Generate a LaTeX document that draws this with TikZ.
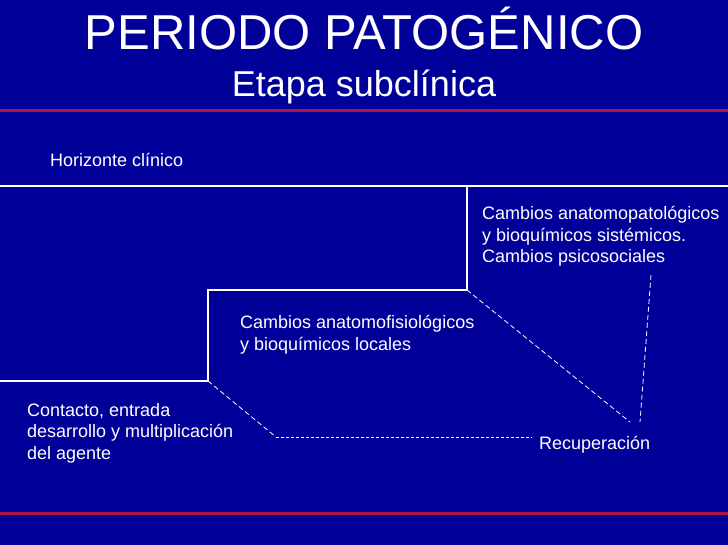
\documentclass[tikz,border=0pt]{standalone}
\usepackage{fontspec}
\setmainfont{Liberation Sans}
\usetikzlibrary{positioning}
\definecolor{fondo}{RGB}{0,0,153}
\definecolor{franja}{RGB}{170,20,70}

\begin{document}
\begin{tikzpicture}[x=1pt, y=-1pt,
  txt/.style={text=white, inner sep=0pt, align=left, anchor=base west,
    font=\fontsize{18}{21.5}\selectfont},
  escalon/.style={draw=white, line width=1.3pt},
  guion/.style={draw=white, line width=0.8pt, dash pattern=on 5pt off 3pt},
  punteado/.style={draw=white, line width=0.8pt, dash pattern=on 3pt off 2pt}]
\fill[fondo] (0,0) rectangle (728,545);
\useasboundingbox (0,0) rectangle (728,545);
% bandas
\draw[franja, line width=3pt] (0,111) -- (728,111);
\draw[franja, line width=3pt] (0,513) -- (728,513);
% titulos
\node[text=white, inner sep=0pt, anchor=base, font=\fontsize{49}{49}\selectfont] (titulo) at (364,50) {PERIODO PATOGÉNICO};
\node[text=white, inner sep=0pt, anchor=base, font=\fontsize{36}{36}\selectfont] (etapa) at (364,97) {Etapa subclínica};
% escalones
\coordinate (h0) at (0,186);
\coordinate (h1) at (728,186);
\coordinate (s1) at (467,186);
\coordinate (s2) at (467,290);
\coordinate (s3) at (208,290);
\coordinate (s4) at (208,381);
\coordinate (s5) at (0,381);
\coordinate (d1) at (276,437);
\coordinate (d2) at (532,437);
\coordinate (v1) at (630,422);
\coordinate (v2) at (651,275);
\coordinate (v3) at (640,422);
\draw[escalon] (h0) -- (h1);
\draw[escalon] (s1) -- (s2) -- (s3) -- (s4) -- (s5);
\draw[guion] (s4) -- (d1);
\draw[punteado] (d1) -- (d2);
\draw[guion] (s2) -- (v1);
\draw[guion] (v2) -- (v3);
% textos (base = ultima linea)
\node[txt] (horiz) at (50,167) {Horizonte clínico};
\node[txt] (sist) at (482,263) {Cambios anatomopatológicos\\y bioquímicos sistémicos.\\Cambios psicosociales};
\node[txt] (local) at (240,350) {Cambios anatomofisiológicos\\y bioquímicos locales};
\node[txt] (agente) at (27,459) {Contacto, entrada\\desarrollo y multiplicación\\del agente};
\node[txt] (recup) at (539,449) {Recuperación};
\end{tikzpicture}
\end{document}
